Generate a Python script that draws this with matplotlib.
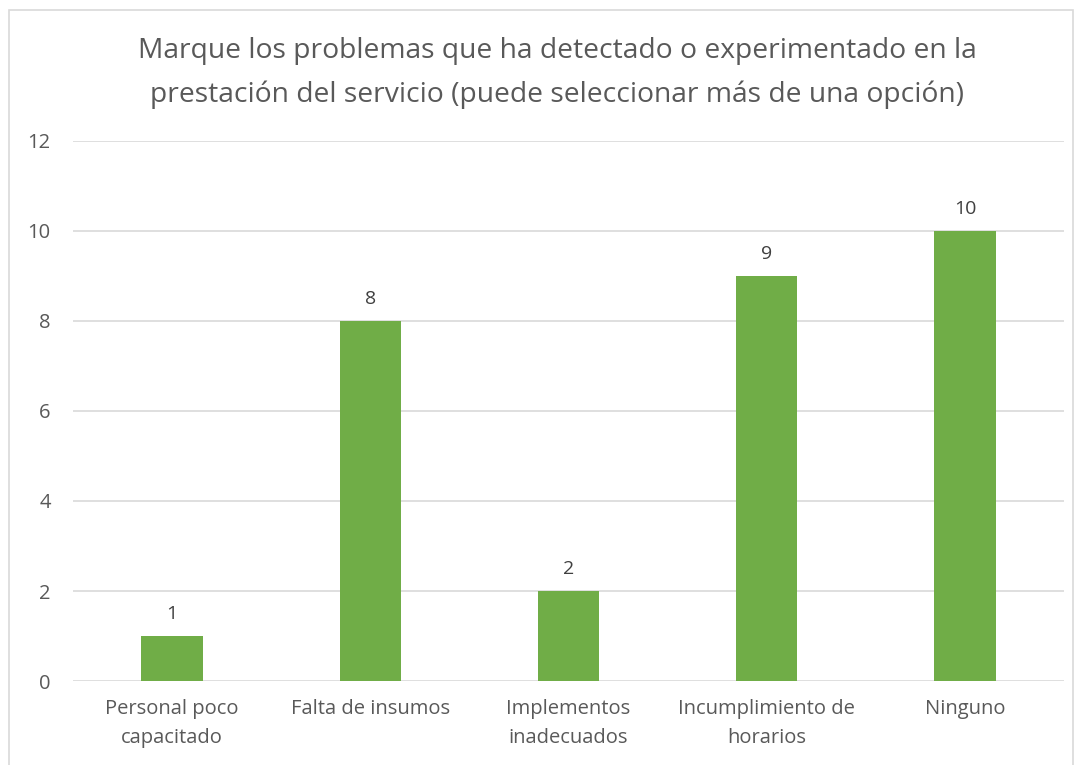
import matplotlib.pyplot as plt
from matplotlib.patches import Rectangle

# Datos de la encuesta
categorias = ["Personal poco\ncapacitado", "Falta de insumos", "Implementos\ninadecuados",
              "Incumplimiento de\nhorarios", "Ninguno"]
respuestas = [1, 8, 2, 9, 10]
ticks_y = [0, 2, 4, 6, 8, 10, 12]

gris_texto = "#595959"
gris_linea = "#D9D9D9"
verde = "#70AD47"

plt.rcParams['font.family'] = ['Open Sans', 'DejaVu Sans']

fig = plt.figure(figsize=(10.81, 7.65), dpi=100)
ax = fig.add_axes([0.0675, 0.1098, 0.9168, 0.7059])

# marco del gráfico
fig.patches.append(Rectangle((9 / 1081, -0.01), 1064 / 1081, 1 - 10 / 765 + 0.01,
                             transform=fig.transFigure, fill=False,
                             edgecolor=gris_linea, linewidth=1.2))

x = range(len(categorias))
barras = ax.bar(x, respuestas, width=0.31, color=verde, zorder=3)
for b, v in zip(barras, respuestas):
    ax.text(b.get_x() + b.get_width() / 2, v + 0.28, str(v), ha="center", va="bottom",
            fontsize=14, color="#404040")

ax.set_xlim(-0.5, len(categorias) - 0.5)
ax.set_ylim(0, 12)
ax.set_yticks(ticks_y)
ax.set_xticks(list(x))
ax.set_xticklabels(categorias, fontsize=14.5, color=gris_texto, linespacing=1.6)
ax.tick_params(axis="y", labelsize=14.5, labelcolor=gris_texto, length=0, pad=16)
ax.tick_params(axis="x", length=0, pad=13)
ax.grid(axis="y", color=gris_linea, linewidth=1.2, zorder=0)
for s in ax.spines.values():
    s.set_visible(False)

fig.text(557 / 1081, 1 - 73 / 765,
         "Marque los problemas que ha detectado o experimentado en la\n"
         "prestación del servicio (puede seleccionar más de una opción)",
         ha="center", va="center", fontsize=20.3, color=gris_texto, linespacing=1.68)

fig.savefig("out.png", dpi=100)
